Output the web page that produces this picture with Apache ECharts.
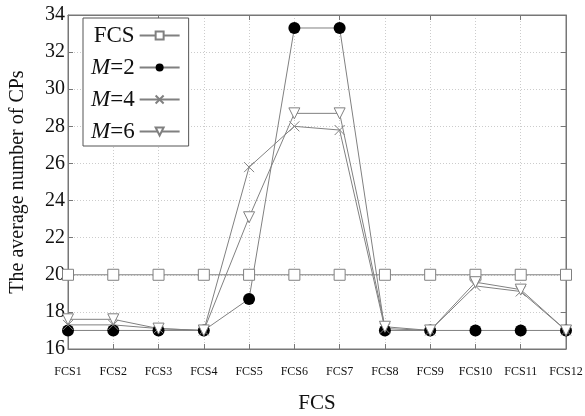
<!DOCTYPE html>
<html><head><meta charset="utf-8">
<script src="https://cdn.jsdelivr.net/npm/echarts@6/dist/echarts.min.js"></script>
<style>html,body{margin:0;padding:0;background:#fff}#c{width:585px;height:416px}</style>
</head><body><div id="c"></div>
<script>
const categories = ['FCS1','FCS2','FCS3','FCS4','FCS5','FCS6','FCS7','FCS8','FCS9','FCS10','FCS11','FCS12'];
const fcsValues = [20,20,20,20,20,20,20,20,20,20,20,20];
const m2Values = [17,17,17,17,18.7,33.3,33.3,17,17,17,17,17];
const m4Values = [17.3,17.3,17.1,17,25.8,28.0,27.8,17.1,17,19.4,19.1,17];
const m6Values = [17.6,17.6,17.1,17,23.1,28.7,28.7,17.2,17,19.6,19.2,17];
const yTicks = [16,18,20,22,24,26,28,30,32,34];

const font = 'Liberation Serif';
const lineColor = '#808080';
const chart = echarts.init(document.getElementById('c'));
const crossPath = 'path://M0,0L10,10M10,0L0,10';
function mk(name, data, symbol, size, itemStyle, rotate) {
  return {
    name, type: 'line', data, symbol, symbolSize: size, symbolRotate: rotate || 0,
    showAllSymbol: true,
    lineStyle: {color: lineColor, width: 1},
    itemStyle: itemStyle,
    emphasis: {disabled: true},
    animation: false
  };
}
chart.setOption({
  animation: false,
  grid: {left: 68, right: 19, top: 15, bottom: 67, show: true, borderColor: '#777', borderWidth: 1, containLabel: false, outerBoundsMode: 'none'},
  legend: {
    left: 83, top: 18, orient: 'vertical', align: 'right',
    itemWidth: 40, itemHeight: 10, itemGap: 9,
    padding: [6, 8, 3, 8],
    backgroundColor: '#fff', borderColor: '#555', borderWidth: 1,
    textStyle: {fontFamily: font, fontSize: 23, color: '#111', rich: {i: {fontFamily: font, fontSize: 23, fontStyle: 'italic', color: '#111'}, n: {fontFamily: font, fontSize: 23, color: '#111'}}},
    formatter: n => n === 'FCS' ? '{n|FCS}' : '{i|M}{n|=' + n.split('=')[1] + '}',
    data: ['FCS','M=2','M=4','M=6']
  },
  xAxis: [{
    type: 'category', data: categories, boundaryGap: false,
    name: 'FCS', nameLocation: 'middle', nameGap: 44,
    nameTextStyle: {fontFamily: font, fontSize: 21, color: '#111'},
    axisLine: {lineStyle: {color: '#777'}},
    axisTick: {inside: true, length: 5, lineStyle: {color: '#777'}, alignWithLabel: true},
    axisLabel: {fontFamily: font, fontSize: 12, color: '#111', margin: 17, interval: 0},
    splitLine: {show: true, lineStyle: {color: '#ccc', type: [1, 2]}}
  }, {
    type: 'category', data: categories, boundaryGap: false, position: 'top',
    axisLine: {lineStyle: {color: '#777'}},
    axisTick: {inside: true, length: 5, lineStyle: {color: '#777'}},
    axisLabel: {show: false}
  }],
  yAxis: [{
    type: 'value', min: 16, max: 34, interval: 2,
    name: 'The average number of CPs', nameLocation: 'middle', nameGap: 40,
    nameTextStyle: {fontFamily: font, fontSize: 20, color: '#111'},
    axisLine: {show: true, lineStyle: {color: '#777'}},
    axisTick: {show: true, inside: true, length: 5, lineStyle: {color: '#777'}},
    axisLabel: {fontFamily: font, fontSize: 20, color: '#111', margin: 3, formatter: v => yTicks.includes(v) ? String(v) : ''},
    splitLine: {show: true, lineStyle: {color: '#ccc', type: [1, 2]}}
  }, {
    type: 'value', min: 16, max: 34, interval: 2, position: 'right',
    axisLine: {show: true, lineStyle: {color: '#777'}},
    axisTick: {show: true, inside: true, length: 5, lineStyle: {color: '#777'}},
    axisLabel: {show: false}, splitLine: {show: false}
  }],
  series: [
    mk('FCS', fcsValues, 'rect', 11, {color: '#fff', borderColor: lineColor, borderWidth: 1}),
    mk('M=2', m2Values, 'circle', 12, {color: '#000', borderColor: '#000', borderWidth: 0}),
    mk('M=4', m4Values, crossPath, 10, {color: 'rgba(0,0,0,0)', borderColor: lineColor, borderWidth: 1}),
    mk('M=6', m6Values, 'triangle', 11, {color: '#fff', borderColor: lineColor, borderWidth: 1}, 180)
  ]
});
</script></body></html>
